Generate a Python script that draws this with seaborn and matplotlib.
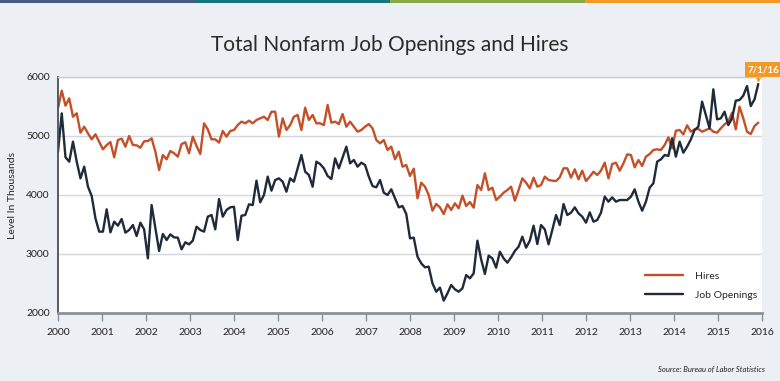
import numpy as np
import pandas as pd
import matplotlib
matplotlib.use('Agg')
import matplotlib.pyplot as plt
import matplotlib.transforms as mtransforms
from matplotlib.patches import Rectangle
import seaborn as sns

# Valores mensuales (miles), desde el inicio de la serie hasta 7/1/16
hires = [
    5470, 5768, 5514, 5638, 5327, 5385, 5056, 5158, 5045, 4944,
    5029, 4903, 4774, 4847, 4898, 4639, 4932, 4955, 4819, 5000,
    4847, 4842, 4802, 4910, 4915, 4960, 4734, 4424, 4678, 4605,
    4746, 4707, 4650, 4864, 4893, 4707, 4989, 4830, 4695, 5215,
    5113, 4944, 4944, 4887, 5085, 4989, 5085,
    5102, 5186, 5243, 5215, 5260, 5215, 5271, 5300, 5327, 5271,
    5412, 5412, 4990, 5300, 5102, 5186, 5327, 5356, 5102, 5480,
    5271, 5356, 5215, 5215, 5186, 5525, 5226, 5243, 5203, 5373,
    5158, 5243, 5158, 5073, 5102, 5158, 5203, 5130, 4932, 4876,
    4932, 4763, 4819, 4605, 4734, 4480, 4508, 4322,
    4446, 3944, 4209, 4141, 4000, 3734, 3847, 3791, 3678, 3842,
    3746, 3859, 3774, 3989, 3814, 3881, 3785, 4169, 4085, 4367,
    4085, 4124, 3915, 3971, 4039, 4085, 4141, 3904, 4085, 4283,
    4209, 4113, 4294, 4141, 4169, 4311, 4254, 4243, 4237, 4300,
    4452, 4452, 4294, 4435, 4266, 4412,
    4237, 4311, 4395, 4339, 4412, 4548, 4282, 4525, 4548, 4412,
    4537, 4689, 4678, 4469, 4593, 4492, 4650, 4695, 4763, 4774,
    4763, 4847, 4977, 4791, 5090, 5102, 5028, 5181, 5073, 5113,
    5119, 5073, 5102, 5130, 5073, 5057, 5130, 5198, 5243, 5395,
    5113, 5497, 5299, 5073, 5034, 5169, 5226,
]

job_openings = [
    4734, 5384, 4639, 4565, 4904, 4565, 4282, 4480, 4141, 3983,
    3604, 3379, 3379, 3757, 3367, 3548, 3480, 3593, 3362, 3407,
    3491, 3305, 3531, 3418, 2926, 3830, 3435, 3051, 3339, 3237,
    3333, 3282, 3277, 3079, 3198, 3164, 3226, 3463, 3407, 3379,
    3633, 3661, 3418, 3932, 3633, 3746, 3791,
    3800, 3237, 3649, 3661, 3842, 3830, 4243, 3876, 4000, 4311,
    4073, 4254, 4282, 4226, 4056, 4282, 4226, 4452, 4678, 4395,
    4339, 4141, 4565, 4525, 4452, 4322, 4271, 4621, 4452, 4638,
    4819, 4537, 4593, 4480, 4548, 4508, 4311, 4152, 4130, 4254,
    4039, 4000, 4096, 3943, 3791, 3813, 3678, 3265,
    3277, 2955, 2842, 2774, 2785, 2503, 2361, 2430, 2209, 2333,
    2474, 2401, 2361, 2418, 2644, 2587, 2672, 3226, 2909, 2661,
    2972, 2926, 2768, 3039, 2926, 2853, 2943, 3051, 3124, 3294,
    3107, 3226, 3480, 3169, 3491, 3418, 3164, 3407, 3661, 3491,
    3847, 3661, 3700, 3791, 3689, 3633,
    3531, 3706, 3548, 3576, 3700, 3972, 3887, 3960, 3887, 3915,
    3915, 3915, 3972, 4096, 3887, 3734, 3887, 4124, 4198, 4565,
    4604, 4678, 4661, 4960, 4650, 4904, 4717, 4819, 4943, 5102,
    5158, 5582, 5356, 5130, 5791, 5282, 5299, 5412, 5186, 5299,
    5599, 5610, 5684, 5847, 5508, 5621, 5881,
]

year_labels = [str(a) for a in range(2000, 2017)]
y_ticks = [2000, 3000, 4000, 5000, 6000]
last_label = '7/1/16'

colores = {'Hires': '#C4502A', 'Job Openings': '#1F2A3A'}
fondo = '#ECEFF4'

mes = np.arange(len(hires))
df = pd.DataFrame({
    'mes': np.concatenate([mes, mes]),
    'valor': hires + job_openings,
    'serie': ['Hires'] * len(hires) + ['Job Openings'] * len(job_openings),
})

sns.set_theme(style='white')
plt.rcParams['font.family'] = ['Lato', 'DejaVu Sans']

fig = plt.figure(figsize=(7.8, 3.81), dpi=100, facecolor=fondo)
ax = fig.add_axes([58 / 780, 1 - 313 / 381, 704 / 780, 236 / 381])
ax.set_facecolor('white')

sns.lineplot(data=df, x='mes', y='valor', hue='serie', palette=colores,
             linewidth=1.7, ax=ax)

# Franja de colores arriba del todo
franja = ['#4A5B82', '#16757C', '#8AAA47', '#F39A26']
for k, c in enumerate(franja):
    fig.add_artist(Rectangle((k / 4, 1 - 3 / 381), 0.25, 3 / 381,
                             transform=fig.transFigure, color=c, lw=0))

n = len(hires)
ax.set_xlim(0, n)
ax.set_ylim(2000, 6000)
ax.set_xticks(np.linspace(0, n, len(year_labels)))
ax.set_xticklabels(year_labels)
ax.set_yticks(y_ticks)
ax.set_yticklabels([str(v) for v in y_ticks])
ax.set_xlabel('')
ax.set_ylabel('')

ax.yaxis.grid(True, color='#D3D6DA', lw=1)
ax.set_axisbelow(True)
ax.tick_params(axis='y', length=0, pad=6, labelsize=7.5, labelcolor='#222222')
ax.tick_params(axis='x', bottom=True, length=6, width=1, color='#8C9199',
               pad=5, labelsize=7.5, labelcolor='#222222')

ax.spines['top'].set_color('#C8CCD2')
ax.spines['top'].set_linewidth(1)
ax.spines['right'].set_visible(False)
ax.spines['left'].set_color('#4A4F57')
ax.spines['left'].set_linewidth(1.3)
ax.spines['bottom'].set_color('#8C9199')
ax.spines['bottom'].set_linewidth(2)

ax.legend(loc='upper left', bbox_to_anchor=(0.82, 0.215), frameon=False,
          fontsize=7.5, handlelength=3.7, labelspacing=0.9, handletextpad=1.1)

# Etiqueta de la última fecha
ax.annotate(last_label, xy=(mes[-1], job_openings[-1]), xytext=(4, 7),
            textcoords='offset points', ha='center', va='bottom',
            color='white', fontsize=7, fontweight='bold',
            bbox=dict(boxstyle='square,pad=0.3', fc='#F39A26', ec='none'),
            annotation_clip=False)
tri = mtransforms.offset_copy(ax.transData, fig=fig, x=0, y=4.5, units='points')
ax.plot([mes[-1]], [job_openings[-1]], marker='v', ms=4, color='#F39A26',
        transform=tri, clip_on=False)

fig.text(0.5, 1 - 45 / 381, 'Total Nonfarm Job Openings and Hires',
         ha='center', va='center', fontsize=15, color='#2A2A2A')
fig.text(13 / 780, 1 - 195 / 381, 'Level In Thousands', rotation=90,
         ha='center', va='center', fontsize=7.5, color='#222222')
fig.text(765 / 780, 1 - 369 / 381, 'Source: Bureau of Labor Statistics',
         ha='right', va='center', fontsize=5.5, style='italic', color='#222222')

plt.savefig('out.png', dpi=100, facecolor=fig.get_facecolor())
plt.close()
